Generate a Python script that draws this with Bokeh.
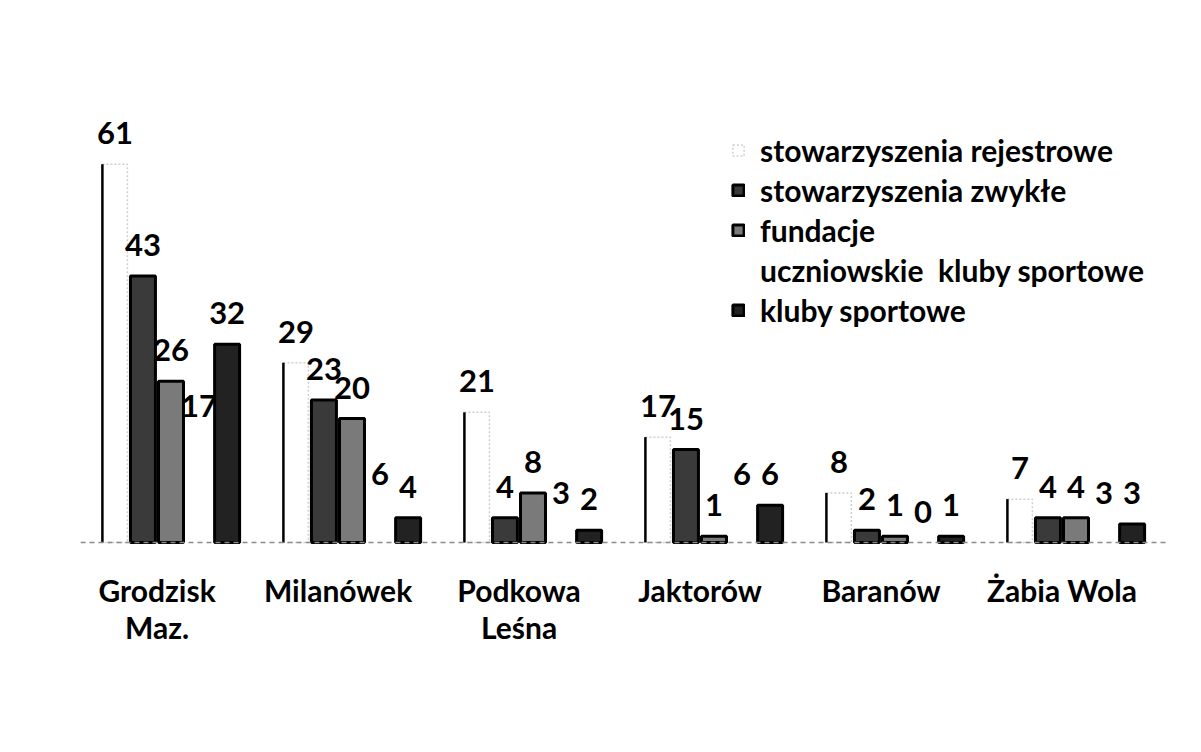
from bokeh.plotting import figure
from bokeh.models import ColumnDataSource, FactorRange, Span, Legend, LegendItem
from bokeh.transform import dodge
from bokeh.core.properties import value
from bokeh.embed import file_html
from bokeh.resources import INLINE

# ---- data ----
gminy = ["Grodzisk Maz.", "Milanówek", "Podkowa Leśna", "Jaktorów", "Baranów", "Żabia Wola"]
gminy_labels = ["Grodzisk\nMaz.", "Milanówek", "Podkowa\nLeśna", "Jaktorów", "Baranów", "Żabia Wola"]
series_names = ["stowarzyszenia rejestrowe", "stowarzyszenia zwykłe", "fundacje",
                "uczniowskie  kluby sportowe", "kluby sportowe"]
stow_rejestrowe = [61, 29, 21, 17, 8, 7]
stow_zwykle = [43, 23, 4, 15, 2, 4]
fundacje = [26, 20, 8, 1, 1, 4]
uczniowskie_ks = [17, 6, 3, 6, 0, 3]
kluby_sportowe = [32, 4, 2, 6, 1, 3]

cols = ["rej", "zw", "fun", "uks", "ks"]
vals = [stow_rejestrowe, stow_zwykle, fundacje, uczniowskie_ks, kluby_sportowe]

data = dict(gmina=gminy, label=gminy_labels)
for c, v in zip(cols, vals):
    data[c] = v
    data[c + "_t"] = [str(x) for x in v]
source = ColumnDataSource(data)

FONT = value("Lato")

p = figure(x_range=FactorRange(factors=gminy, range_padding=0), y_range=(-30.8, 84.68),
           width=1185, height=736, output_backend="svg", toolbar_location=None,
           min_border_left=80, min_border_right=19, min_border_top=17, min_border_bottom=3)
p.xaxis.visible = False
p.yaxis.visible = False
p.xgrid.visible = False
p.ygrid.visible = False
p.outline_line_color = None

p.add_layout(Span(location=0, dimension="width", line_color="#8a8a8a",
                  line_dash="5 4", line_width=1.5))

offsets = [-0.31, -0.155, 0.0, 0.155, 0.31]
bw = 0.138
fills = ["white", "#3a3a3a", "#7a7a7a", "white", "#222222"]
lines = ["#cfcfcf", "black", "black", None, "black"]
dashes = ["2 2", "solid", "solid", "solid", "solid"]
widths = [1.5, 3, 3, 0, 3]

renderers = []
for i, c in enumerate(cols):
    r = p.vbar(x=dodge("gmina", offsets[i], range=p.x_range), top=c, width=bw, bottom=0,
               source=source, fill_color=fills[i], line_color=lines[i],
               line_width=widths[i], line_dash=dashes[i])
    renderers.append(r)
    p.text(x=dodge("gmina", offsets[i], range=p.x_range), y=c, text=c + "_t", source=source,
           text_align="center", text_baseline="bottom", y_offset=-20,
           text_font=FONT, text_font_style="bold", text_font_size="31px", text_color="black")

# left edge line of the "rejestrowe" columns
edge = offsets[0] - bw / 2
p.segment(x0=dodge("gmina", edge, range=p.x_range), y0=0,
          x1=dodge("gmina", edge, range=p.x_range), y1="rej",
          source=source, line_color="black", line_width=2.5)

# category labels
p.text(x=dodge("gmina", -0.077, range=p.x_range), y=0, text="label", source=source,
       text_align="center", text_baseline="top", y_offset=29, text_line_height=1.03,
       text_font=FONT, text_font_style="bold", text_font_size="30px", text_color="black")

legend = Legend(items=[LegendItem(label=n, renderers=[r]) for n, r in zip(series_names, renderers)],
                location=(651, 405), label_text_font="Lato", label_text_font_style="bold",
                label_text_font_size="30px", label_text_color="black",
                glyph_width=14, glyph_height=14, label_standoff=15, spacing=4,
                padding=0, margin=0, border_line_color=None, background_fill_alpha=0)
p.add_layout(legend)

open("out.html", "w").write(file_html(p, INLINE))
